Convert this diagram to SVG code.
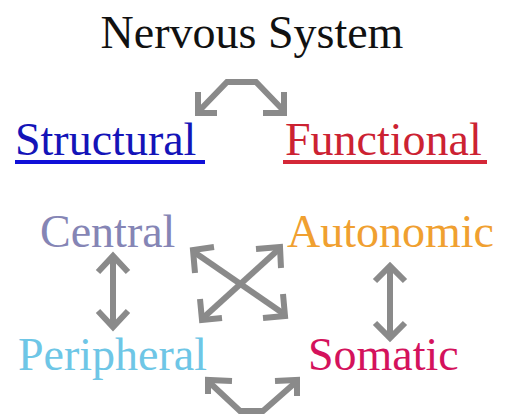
<svg xmlns="http://www.w3.org/2000/svg" width="505" height="415" viewBox="0 0 505 415">
<style>
text{font-family:"Liberation Serif","Times New Roman",serif;font-size:46px}
.a{fill:none;stroke:#8a8a8a;stroke-width:6;stroke-linecap:butt;stroke-linejoin:miter}
</style>
<rect width="505" height="415" fill="#fff"/>
<g id="title"><text x="252" y="48" text-anchor="middle" fill="#111">Nervous System</text></g>
<g id="structural"><text x="15" y="155" fill="#1414b8">Structural</text><rect x="15" y="160" width="190" height="4" fill="#1010d8"/></g>
<g id="functional"><text x="285" y="155" fill="#cc2232">Functional</text><rect x="283" y="160" width="204" height="4" fill="#d42838"/></g>
<g id="central"><text x="40" y="247" fill="#8585b5">Central</text></g>
<g id="autonomic"><text x="287" y="247" fill="#f0a030">Autonomic</text></g>
<g id="peripheral"><text x="18" y="370" fill="#6ec6e6">Peripheral</text></g>
<g id="somatic"><text x="308" y="370" fill="#d4125c">Somatic</text></g>
<g id="connectors" class="a">
<path d="M199,111 L227,82 L256,82 L284,111"/>
<path d="M198,92 L198,113 L217,113"/>
<path d="M284,92 L284,113 L263,113"/>
<path d="M194,252 L284,314"/>
<path d="M279,249 L203,318"/>
<path d="M195,273 L193,250 L214,247"/>
<path d="M256,249 L280,247 L281,268"/>
<path d="M200,299 L202,320 L222,318"/>
<path d="M283,294 L285,316 L263,318"/>
<path d="M113,257 L113,326"/>
<path d="M98,272 L113,256 L128,272"/>
<path d="M98,311 L113,327 L128,311"/>
<path d="M390,267 L390,337"/>
<path d="M375,281 L390,266 L405,281"/>
<path d="M375,323 L390,338 L405,323"/>
<path d="M209,382 L240,411 L263,411 L296,382"/>
<path d="M208,394 L208,380 L232,381"/>
<path d="M275,381 L297,380 L297,396"/>
</g>
</svg>
